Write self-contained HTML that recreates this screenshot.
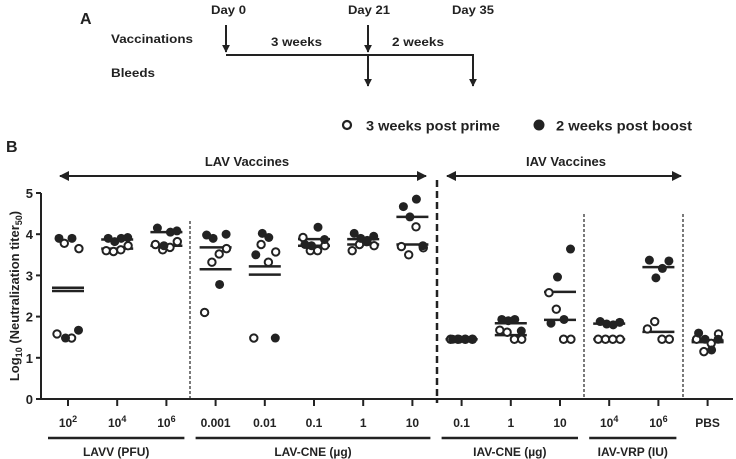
<!DOCTYPE html>
<html><head><meta charset="utf-8"><style>
html,body{margin:0;padding:0;background:#fff;}
svg{display:block;font-family:"Liberation Sans",Arial,sans-serif;font-weight:bold;}
</style></head><body>
<svg id="chart" width="736" height="459" viewBox="0 0 736 459">
<defs>
<marker id="ah" viewBox="0 0 10 10" refX="9" refY="5" markerWidth="5" markerHeight="5" orient="auto-start-reverse"><path d="M0,0L10,5L0,10z" fill="#222"/></marker>
<marker id="ad" viewBox="0 0 10 10" refX="9" refY="5" markerWidth="4" markerHeight="4" orient="auto"><path d="M0,0L10,5L0,10z" fill="#222"/></marker>
</defs>
<g fill="#222" font-size="12">
<text x="80" y="24" font-size="16">A</text>
<text x="111" y="43" textLength="82" lengthAdjust="spacingAndGlyphs">Vaccinations</text>
<text x="111" y="77" textLength="44" lengthAdjust="spacingAndGlyphs">Bleeds</text>
<text x="211" y="14" textLength="35" lengthAdjust="spacingAndGlyphs">Day 0</text>
<text x="348" y="14" textLength="42" lengthAdjust="spacingAndGlyphs">Day 21</text>
<text x="452" y="14" textLength="42" lengthAdjust="spacingAndGlyphs">Day 35</text>
<text x="271" y="46" textLength="51" lengthAdjust="spacingAndGlyphs">3 weeks</text>
<text x="392" y="46" textLength="52" lengthAdjust="spacingAndGlyphs">2 weeks</text>
<polyline points="226,55 473,55 473,64" fill="none" stroke="#222" stroke-width="2"/>
<line x1="226" y1="25" x2="226" y2="52" stroke="#222" stroke-width="2" marker-end="url(#ad)"/>
<line x1="368" y1="25" x2="368" y2="52" stroke="#222" stroke-width="2" marker-end="url(#ad)"/>
<line x1="368" y1="55" x2="368" y2="86" stroke="#222" stroke-width="2" marker-end="url(#ad)"/>
<line x1="473" y1="60" x2="473" y2="86" stroke="#222" stroke-width="2" marker-end="url(#ad)"/>
</g>
<text x="6" y="152" font-size="16" fill="#222">B</text>
<g font-size="14" fill="#222">
<g><circle cx="347" cy="125" r="4" fill="#fff" stroke="#222" stroke-width="2.2"/><text x="366" y="130.5" textLength="134" lengthAdjust="spacingAndGlyphs">3 weeks post prime</text></g>
<g><circle cx="539" cy="125" r="5.5" fill="#222"/><text x="556" y="130.5" textLength="136" lengthAdjust="spacingAndGlyphs">2 weeks post boost</text></g>
</g>
<g id="plot"></g>
</svg>
<script>
const categories = ["10^2","10^4","10^6","0.001","0.01","0.1","1","10","0.1","1","10","10^4","10^6","PBS"];
const primeValues = [
 [1.58,3.78,1.48,3.65],[3.6,3.58,3.62,3.72],[3.75,3.62,3.68,3.82],[2.1,3.32,3.52,3.65],
 [1.48,3.75,3.32,3.57],[3.92,3.6,3.6,3.72],[3.6,3.75,3.82,3.72],[3.7,3.5,4.18,3.67],
 [1.45,1.45,1.45,1.45],[1.67,1.62,1.45,1.45],[2.58,2.18,1.45,1.45],[1.45,1.45,1.45,1.45],
 [1.7,1.88,1.45,1.45],[1.45,1.15,1.35,1.58]];
const boostValues = [
 [3.9,1.48,3.9,1.67],[3.9,3.82,3.9,3.92],[4.15,3.72,4.05,4.08],[3.98,3.9,2.78,4.0],
 [3.5,4.02,3.92,1.48],[3.75,3.72,4.17,3.87],[4.02,3.9,3.85,3.95],[4.67,4.42,4.85,3.72],
 [1.45,1.45,1.45,1.45],[1.93,1.9,1.93,1.65],[1.84,2.96,1.93,3.64],[1.88,1.82,1.8,1.86],
 [3.37,2.94,3.17,3.35],[1.6,1.45,1.19,1.45]];
const primeMeans = [2.62,3.65,3.72,3.15,3.02,3.72,3.75,3.75,1.45,1.55,1.92,1.45,1.63,1.38];
const boostMeans = [2.7,3.87,4.05,3.68,3.22,3.88,3.88,4.42,1.45,1.84,2.6,1.83,3.2,1.42];
const yTicks = [0,1,2,3,4,5];
const groupNames = ["LAVV (PFU)","LAV-CNE (µg)","IAV-CNE (µg)","IAV-VRP (IU)"];
const groupRanges = [[0,2],[3,7],[8,10],[11,12]];

const NS="http://www.w3.org/2000/svg";
const g=document.getElementById('plot');
const x0=41,x1=733,yb=399,yt=193;
const y=v=>yb-(v/5)*(yb-yt);
const x=i=>68+i*49.2;
function mk(t,a,txt){const e=document.createElementNS(NS,t);for(const k in a)e.setAttribute(k,a[k]);if(txt!==undefined)e.textContent=txt;g.appendChild(e);return e;}
let e;
e=mk('line',{x1:x0,y1:yt,x2:x0,y2:yb+1,stroke:'#222','stroke-width':2});


e=mk('line',{x1:x0-1,y1:yb,x2:x1,y2:yb,stroke:'#222','stroke-width':2});


yTicks.forEach(v=>{
 e=mk('line',{x1:x0-5,y1:y(v),x2:x0,y2:y(v),stroke:'#222','stroke-width':2});
 
 
 e=mk('text',{x:x0-8,y:y(v)+5,'text-anchor':'end','font-size':13,fill:'#222'},String(v));
 
 
});
e=mk('text',{x:19,y:296,transform:'rotate(-90 19 296)','text-anchor':'middle','font-size':13,fill:'#222'});
e.innerHTML='Log<tspan font-size="9" dy="3">10</tspan><tspan dy="-3"> (Neutralization titer</tspan><tspan font-size="9" dy="3">50</tspan><tspan dy="-3">)</tspan>';


categories.forEach((c,i)=>{
 e=mk('line',{x1:x(i),y1:yb,x2:x(i),y2:yb+7,stroke:'#222','stroke-width':2});
 
 
 let t;
 if(c.indexOf('^')>0){const p=c.split('^');t=mk('text',{x:x(i),y:427,'text-anchor':'middle','font-size':12,fill:'#222'});t.innerHTML=p[0]+'<tspan font-size="9" dy="-5">'+p[1]+'</tspan>';}
 else t=mk('text',{x:x(i),y:427,'text-anchor':'middle','font-size':12,fill:'#222'},c);
 
 
});
groupNames.forEach((n,k)=>{
 const a=x(groupRanges[k][0])-20,b=x(groupRanges[k][1])+18;
 e=mk('line',{x1:a,y1:438,x2:b,y2:438,stroke:'#222','stroke-width':2.5});
 
 
 e=mk('text',{x:(a+b)/2,y:456,'text-anchor':'middle','font-size':12,fill:'#222'},n);
 
 
});
[[190,221],[584,214],[683,214]].forEach(d=>{
 e=mk('line',{x1:d[0],y1:d[1],x2:d[0],y2:yb,stroke:'#222','stroke-width':1.2,'stroke-dasharray':'3,2'});
 
 
});
e=mk('line',{x1:437,y1:180,x2:437,y2:403,stroke:'#222','stroke-width':2.5,'stroke-dasharray':'7,4'});


e=mk('line',{x1:60,y1:176,x2:426,y2:176,stroke:'#222','stroke-width':2,'marker-start':'url(#ah)','marker-end':'url(#ah)'});


e=mk('text',{x:247,y:166,'text-anchor':'middle','font-size':13,fill:'#222'},'LAV Vaccines');


e=mk('line',{x1:447,y1:176,x2:681,y2:176,stroke:'#222','stroke-width':2,'marker-start':'url(#ah)','marker-end':'url(#ah)'});


e=mk('text',{x:566,y:166,'text-anchor':'middle','font-size':13,fill:'#222'},'IAV Vaccines');


categories.forEach((c,i)=>{
 [primeMeans[i],boostMeans[i]].forEach(m=>{
  e=mk('line',{x1:x(i)-16,y1:y(m),x2:x(i)+16,y2:y(m),stroke:'#222','stroke-width':2.5});
  
  
 });
 primeValues[i].forEach((v,j)=>{
  e=mk('circle',{cx:x(i)-11+j*7.3,cy:y(v),r:3.7,fill:'#fff',stroke:'#222','stroke-width':2});
  
  
 });
 boostValues[i].forEach((v,j)=>{
  e=mk('circle',{cx:x(i)-9+j*6.5,cy:y(v),r:4.5,fill:'#222'});
  
  
 });
});
</script>
</body></html>
